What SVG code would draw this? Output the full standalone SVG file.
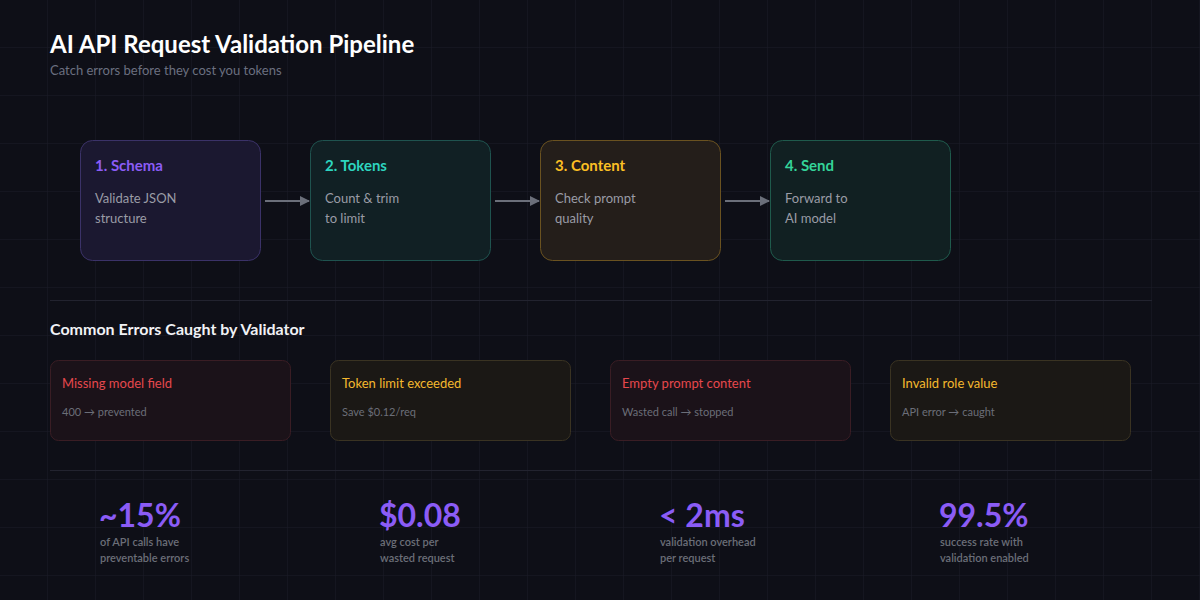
<svg xmlns="http://www.w3.org/2000/svg" width="1200" height="600" viewBox="0 0 1200 600">
  <defs>
    <pattern id="grid" width="48" height="48" patternUnits="userSpaceOnUse">
      <path d="M48 0 V48 M0 48 H48" fill="none" stroke="#1b1c28" stroke-width="1"/>
    </pattern>
    <marker id="arrow" viewBox="0 0 10 10" refX="9" refY="5" markerWidth="10" markerHeight="10" orient="auto" markerUnits="userSpaceOnUse">
      <path d="M0 0 L10 5 L0 10 Z" fill="#6b6f7a"/>
    </marker>
    <style>
      text { font-family: Lato, "Liberation Sans", sans-serif; }
      .title { font-size: 24px; font-weight: 700; fill: #ffffff; }
      .sub { font-size: 13px; fill: #6b7080; }
      .stepTitle { font-size: 15px; font-weight: 700; }
      .stepDesc { font-size: 13px; fill: #9a9ca6; }
      .section { font-size: 16px; font-weight: 700; fill: #f1f2f5; }
      .errTitle { font-size: 13px; }
      .errSub { font-size: 11px; fill: #6b6e78; }
      .statVal { font-size: 32px; font-weight: 700; fill: #8b5cf6; }
      .statLbl { font-size: 11px; font-weight: 600; fill: #6b6e78; }
      .sep { stroke: #22232f; stroke-width: 1; }
      .conn { stroke: #6b6f7a; stroke-width: 2; fill: none; }
    </style>
  </defs>

  <rect width="1200" height="600" fill="#0e0f17"/>
  <rect width="1200" height="600" fill="url(#grid)"/>

  <text class="title" x="50" y="53">AI API Request Validation Pipeline</text>
  <text class="sub" x="50" y="75">Catch errors before they cost you tokens</text>

  <g id="step1">
    <rect x="80.5" y="140.5" width="180" height="120" rx="12" fill="#1b1830" stroke="#3b3268"/>
    <text class="stepTitle" x="95" y="171" fill="#8b5cf6">1. Schema</text>
    <text class="stepDesc" x="95" y="203">Validate JSON</text>
    <text class="stepDesc" x="95" y="223">structure</text>
  </g>
  <g id="step2">
    <rect x="310.5" y="140.5" width="180" height="120" rx="12" fill="#112024" stroke="#1f534f"/>
    <text class="stepTitle" x="325" y="171" fill="#2dd4bf">2. Tokens</text>
    <text class="stepDesc" x="325" y="203">Count &amp; trim</text>
    <text class="stepDesc" x="325" y="223">to limit</text>
  </g>
  <g id="step3">
    <rect x="540.5" y="140.5" width="180" height="120" rx="12" fill="#241e1a" stroke="#6a5220"/>
    <text class="stepTitle" x="555" y="171" fill="#fbbf24">3. Content</text>
    <text class="stepDesc" x="555" y="203">Check prompt</text>
    <text class="stepDesc" x="555" y="223">quality</text>
  </g>
  <g id="step4">
    <rect x="770.5" y="140.5" width="180" height="120" rx="12" fill="#112022" stroke="#1f5a4c"/>
    <text class="stepTitle" x="785" y="171" fill="#34d399">4. Send</text>
    <text class="stepDesc" x="785" y="203">Forward to</text>
    <text class="stepDesc" x="785" y="223">AI model</text>
  </g>

  <g id="connectors">
    <line class="conn" x1="265" y1="201" x2="309" y2="201" marker-end="url(#arrow)"/>
    <line class="conn" x1="495" y1="201" x2="539" y2="201" marker-end="url(#arrow)"/>
    <line class="conn" x1="725" y1="201" x2="769" y2="201" marker-end="url(#arrow)"/>
  </g>

  <line class="sep" x1="50" y1="300.5" x2="1152" y2="300.5"/>

  <text class="section" x="50" y="335">Common Errors Caught by Validator</text>

  <g id="err1">
    <rect x="50.5" y="360.5" width="240" height="80" rx="8" fill="#1b1219" stroke="#3a1d24"/>
    <text class="errTitle" x="62" y="388" fill="#e5484d">Missing model field</text>
    <text class="errSub" x="62" y="416">400 → prevented</text>
  </g>
  <g id="err2">
    <rect x="330.5" y="360.5" width="240" height="80" rx="8" fill="#1b1815" stroke="#3a3322"/>
    <text class="errTitle" x="342" y="388" fill="#f5b82e">Token limit exceeded</text>
    <text class="errSub" x="342" y="416">Save $0.12/req</text>
  </g>
  <g id="err3">
    <rect x="610.5" y="360.5" width="240" height="80" rx="8" fill="#1b1219" stroke="#3a1d24"/>
    <text class="errTitle" x="622" y="388" fill="#e5484d">Empty prompt content</text>
    <text class="errSub" x="622" y="416">Wasted call → stopped</text>
  </g>
  <g id="err4">
    <rect x="890.5" y="360.5" width="240" height="80" rx="8" fill="#1b1815" stroke="#3a3322"/>
    <text class="errTitle" x="902" y="388" fill="#f5b82e">Invalid role value</text>
    <text class="errSub" x="902" y="416">API error → caught</text>
  </g>

  <line class="sep" x1="50" y1="470.5" x2="1152" y2="470.5"/>

  <g id="stat1">
    <text class="statVal" x="99" y="527">~15%</text>
    <text class="statLbl" x="100" y="546">of API calls have</text>
    <text class="statLbl" x="100" y="562">preventable errors</text>
  </g>
  <g id="stat2">
    <text class="statVal" x="379" y="527">$0.08</text>
    <text class="statLbl" x="380" y="546">avg cost per</text>
    <text class="statLbl" x="380" y="562">wasted request</text>
  </g>
  <g id="stat3">
    <text class="statVal" x="659" y="527">&lt; 2ms</text>
    <text class="statLbl" x="660" y="546">validation overhead</text>
    <text class="statLbl" x="660" y="562">per request</text>
  </g>
  <g id="stat4">
    <text class="statVal" x="939" y="527">99.5%</text>
    <text class="statLbl" x="940" y="546">success rate with</text>
    <text class="statLbl" x="940" y="562">validation enabled</text>
  </g>
</svg>
